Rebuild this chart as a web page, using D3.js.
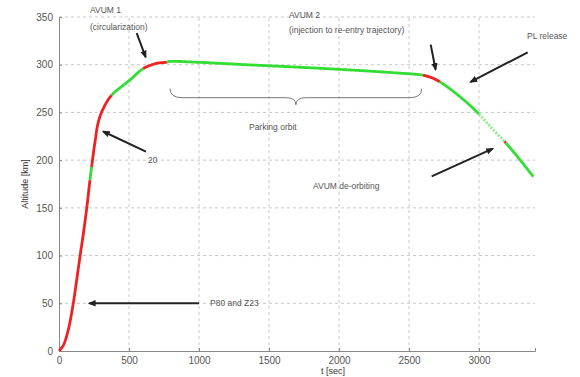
<!DOCTYPE html>
<html>
<head>
<meta charset="utf-8">
<script src="https://cdn.jsdelivr.net/npm/d3@7"></script>
<style>
  body { margin: 0; background: #fff; }
  svg { font-family: "Liberation Sans", Arial, sans-serif; }
</style>
</head>
<body>
<svg id="chart" width="580" height="377"></svg>
<script>
// trajectory
var timeSec    = [0, 31, 66, 102, 126, 150, 174, 198, 221, 233, 257, 281, 316, 376, 507, 602, 700, 769, 781, 1000, 1364, 1700, 2079, 2400, 2600, 2660, 2721, 2864, 2995, 3100, 3186, 3300, 3388];
var altitudeKm = [0, 6, 22, 50, 74, 99, 123, 149.5, 179, 193, 219, 240, 254, 268, 284, 296, 301.5, 302.6, 303.3, 302.5, 299.8, 297.5, 294.5, 291.5, 289, 286.5, 282, 266.5, 249, 232, 219, 199, 182.7];

// flight phases: end time of each, and whether engine is burning
var phaseEnd  = [221, 233, 376, 602, 770, 2600, 2720, 3000, 3182, 3192, 3388];
var phaseType = ["burn", "coast", "burn", "coast", "burn", "coast", "burn", "coast", "drift", "burn", "coast"];

var xTicks = [0, 500, 1000, 1500, 2000, 2500, 3000];
var yTicks = [0, 50, 100, 150, 200, 250, 300, 350];

// annotations in data units
var labelText = ["AVUM 1", "(circularization)", "AVUM 2", "(injection to re-entry trajectory)", "PL release", "AVUM de-orbiting", "20", "P80 and Z23", "Parking orbit"];
var labelT    = [221, 221, 1643, 1643, 3343, 1814, 636, 1079, 1357];
var labelAlt  = [354, 336, 349, 333, 327, 170, 197, 47, 232];

var arrowFromT   = [555, 2655, 3348, 2662, 621, 1000];
var arrowFromAlt = [333, 321, 313, 183, 209, 50];
var arrowToT     = [619, 2690, 2940, 3098, 316, 216];
var arrowToAlt   = [308, 295, 282, 212, 230, 50];

var braceT = [793, 2591];
var braceAlt = [275, 258];

var svg = d3.select("#chart");
var x = d3.scaleLinear().domain([0, 3400]).range([59, 535]);
var y = d3.scaleLinear().domain([0, 350]).range([351, 17]);

var colorOf = { burn: "#ee2222", coast: "#33dd33", drift: "#88ee88" };

// grid
svg.append("g").selectAll("line").data(xTicks.slice(1)).enter().append("line")
  .attr("x1", d => x(d)).attr("x2", d => x(d))
  .attr("y1", y(0)).attr("y2", y(350))
  .attr("stroke", "#c8c8c8").attr("stroke-dasharray", "3,3");
svg.append("g").selectAll("line").data(yTicks.slice(1)).enter().append("line")
  .attr("x1", x(0)).attr("x2", x(3400))
  .attr("y1", d => y(d)).attr("y2", d => y(d))
  .attr("stroke", "#c8c8c8").attr("stroke-dasharray", "3,3");

// axes
var xAxis = svg.append("g").attr("transform", "translate(0," + y(0) + ")")
  .call(d3.axisBottom(x).tickValues(xTicks).tickSize(-3).tickPadding(6).tickFormat(d3.format("d")));
var yAxis = svg.append("g").attr("transform", "translate(" + x(0) + ",0)")
  .call(d3.axisLeft(y).tickValues(yTicks).tickSize(-3).tickPadding(6));
[xAxis, yAxis].forEach(function (a) {
  a.select(".domain").attr("stroke", "#888");
  a.selectAll(".tick line").attr("stroke", "#888");
  a.selectAll("text").attr("fill", "#555").style("font-size", "10px");
});

svg.append("text").attr("x", 333).attr("y", 374).attr("text-anchor", "middle")
  .attr("fill", "#333").style("font-size", "9px").text("t [sec]");
svg.append("text").attr("transform", "translate(28," + y(175) + ") rotate(-90)")
  .attr("text-anchor", "middle").attr("fill", "#333").style("font-size", "9px").text("Altitude [km]");

// full trajectory path, used to cut out the phase pieces
var line = d3.line().x((d, i) => x(timeSec[i])).y(d => y(d)).curve(d3.curveCatmullRom.alpha(0.5));
var guide = svg.append("path").attr("d", line(altitudeKm)).attr("fill", "none").attr("stroke", "none");
var node = guide.node();
var total = node.getTotalLength();

// length along the path where x reaches a given time
function lengthAt(t) {
  var lo = 0, hi = total, px = x(t);
  for (var k = 0; k < 40; k++) {
    var mid = (lo + hi) / 2;
    if (node.getPointAtLength(mid).x < px) lo = mid; else hi = mid;
  }
  return (lo + hi) / 2;
}

phaseEnd.forEach(function (end, i) {
  var l0 = i === 0 ? 0 : lengthAt(phaseEnd[i - 1]);
  var l1 = i === phaseEnd.length - 1 ? total : lengthAt(end);
  var pts = [];
  for (var l = l0; l < l1; l += 1) {
    var p = node.getPointAtLength(l);
    pts.push([p.x, p.y]);
  }
  var pe = node.getPointAtLength(l1);
  pts.push([pe.x, pe.y]);
  svg.append("path").attr("d", d3.line()(pts))
    .attr("fill", "none")
    .attr("stroke", colorOf[phaseType[i]])
    .attr("stroke-width", 2.8)
    .attr("stroke-dasharray", phaseType[i] === "drift" ? "2,1.5" : null);
});

// arrows
svg.append("defs").append("marker").attr("id", "head").attr("viewBox", "0 0 10 10")
  .attr("refX", 8).attr("refY", 5).attr("markerWidth", 4).attr("markerHeight", 4)
  .attr("orient", "auto").append("path").attr("d", "M0,1L10,5L0,9Z").attr("fill", "#222");
arrowFromT.forEach(function (t, i) {
  svg.append("line")
    .attr("x1", x(t)).attr("y1", y(arrowFromAlt[i]))
    .attr("x2", x(arrowToT[i])).attr("y2", y(arrowToAlt[i]))
    .attr("stroke", "#222").attr("stroke-width", 2)
    .attr("marker-end", "url(#head)");
});

// brace under parking orbit
var bx0 = x(braceT[0]), bx1 = x(braceT[1]), bxm = (bx0 + bx1) / 2;
var byTop = y(braceAlt[0]), byTip = y(braceAlt[1]), byMid = (byTop + byTip) / 2 + 1;
svg.append("path")
  .attr("d", "M" + bx0 + "," + byTop +
    "Q" + bx0 + "," + byMid + " " + (bx0 + 12) + "," + byMid +
    "L" + (bxm - 10) + "," + byMid +
    "Q" + bxm + "," + byMid + " " + bxm + "," + byTip +
    "Q" + bxm + "," + byMid + " " + (bxm + 10) + "," + byMid +
    "L" + (bx1 - 12) + "," + byMid +
    "Q" + bx1 + "," + byMid + " " + bx1 + "," + byTop)
  .attr("fill", "none").attr("stroke", "#777").attr("stroke-width", 1);

// labels
labelText.forEach(function (t, i) {
  svg.append("text").attr("x", x(labelT[i])).attr("y", y(labelAlt[i]))
    .attr("fill", "#555").style("font-size", "8.5px").text(t);
});
</script>
</body>
</html>
